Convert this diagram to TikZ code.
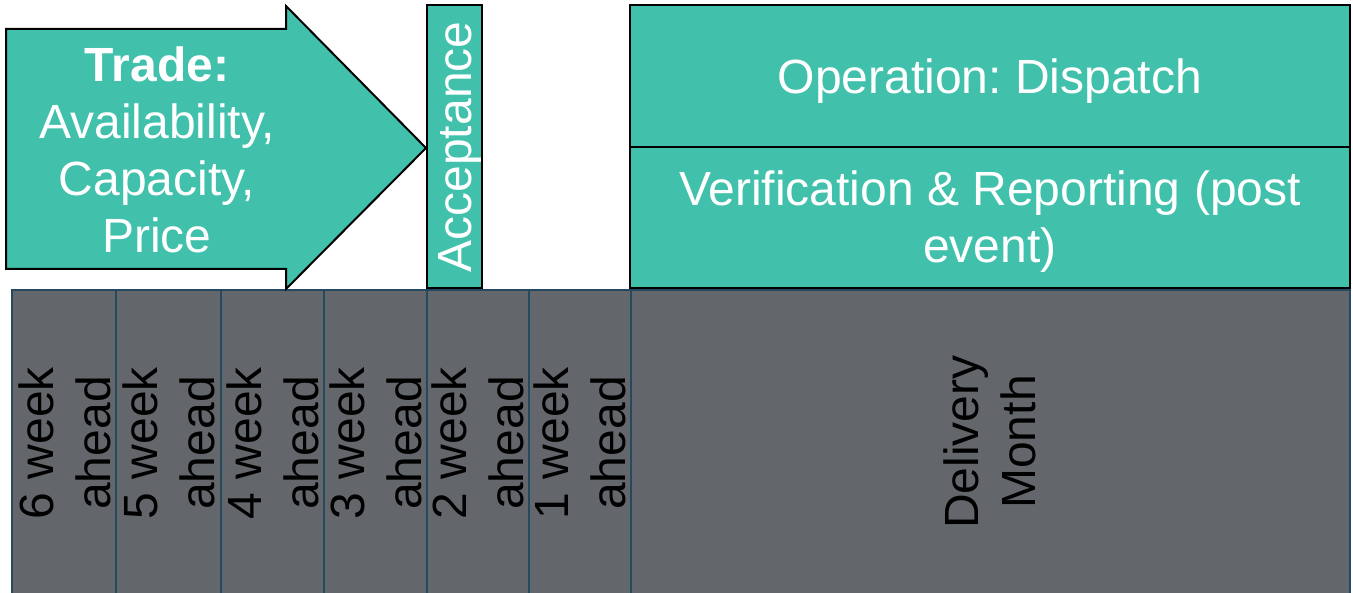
\documentclass[tikz,border=0pt]{standalone}
\usepackage{fontspec}
\setmainfont{Liberation Sans}
\frenchspacing
\definecolor{tealfill}{HTML}{41C1AC}
\definecolor{cellgrey}{HTML}{63666A}
\definecolor{cellline}{HTML}{244A60}
\begin{document}
\begin{tikzpicture}[x=1pt,y=-1pt,
  bigtext/.style={font=\fontsize{48}{57}\selectfont\frenchspacing, inner sep=0pt, align=center},
  cellbox/.style={draw=cellline, line width=2pt, fill=cellgrey},
  tealbox/.style={draw=black, line width=2pt, fill=tealfill},
  celllabel/.style={bigtext, rotate=90, text=black},
  whitelabel/.style={bigtext, text=white}]
\useasboundingbox (0,0) rectangle (1353,593);
\clip (0,0) rectangle (1353,593);
\fill[white] (0,0) rectangle (1353,593);

% grey timeline cells
\foreach \xa/\xb in {12/116,116/221,221/324,324/427,427/529,529/631,631/1350}
  \path[cellbox] (\xa,290) rectangle (\xb,610);

\node[celllabel] (w6) at (64.5,443) {6 week\\ahead};
\node[celllabel] (w5) at (169,443) {5 week\\ahead};
\node[celllabel] (w4) at (272.5,443) {4 week\\ahead};
\node[celllabel] (w3) at (375.5,443) {3 week\\ahead};
\node[celllabel] (w2) at (478,443) {2 week\\ahead};
\node[celllabel] (w1) at (580,443) {1 week\\ahead};
\node[celllabel] (dm) at (990,442) {Delivery\\Month};

% trade arrow
\path[tealbox, line join=miter] (6,29) -- (286,29) -- (286,6) -- (426,148)
  -- (286,289) -- (286,269) -- (6,269) -- cycle;
\node[whitelabel] (trade) at (157,150) {\textbf{Trade:}\\Availability,\\Capacity,\\Price};

% acceptance
\path[tealbox] (427,5) rectangle (482,288);
\node[whitelabel, rotate=90] (acc) at (459.5,147) {Acceptance};

% operation and verification
\path[tealbox] (630,5) rectangle (1350,147);
\path[tealbox] (630,147) rectangle (1350,288);
\node[whitelabel] (op) at (990,81) {Operation: Dispatch};
\node[whitelabel] (ver) at (990,222) {Verification \& Reporting (post\\event)};
\end{tikzpicture}
\end{document}
